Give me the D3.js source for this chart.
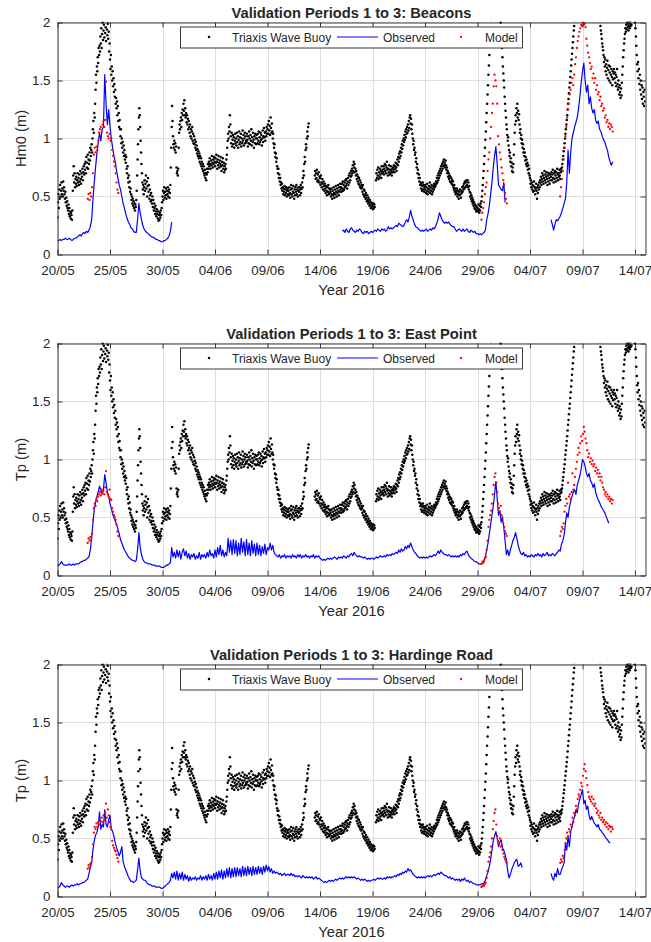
<!DOCTYPE html>
<html>
<head>
<meta charset="utf-8">
<script src="https://cdn.jsdelivr.net/npm/d3@7"></script>
<style>
  body { margin: 0; background: #fff; }
  text { font-family: Arial, "Liberation Sans", sans-serif; fill: #262626; }
</style>
</head>
<body>
<svg id="chart" width="651" height="942"></svg>
<script>
// ---- Data -------------------------------------------------------------
const siteNames = ["Beacons", "East Point", "Hardinge Road"];
const yTitles = ["Hm0 (m)", "Tp (m)", "Tp (m)"];
const xTickDates = ["2016-05-20","2016-05-25","2016-05-30","2016-06-04","2016-06-09","2016-06-14",
                    "2016-06-19","2016-06-24","2016-06-29","2016-07-04","2016-07-09","2016-07-14"];
const yTickValues = [0, 0.5, 1, 1.5, 2];
const xDomain = ["2016-05-20T00:00", "2016-07-15T00:00"];
const legendLabels = ["Triaxis Wave Buoy", "Observed", "Model"];

// Triaxis wave buoy record, hourly from 20/05 00:00 (one row per day, null = no reading on chart)
const buoyStart = "2016-05-20T00:00";
const buoyStepHours = 1;
const N = null;
const buoy = [
0.32,0.45,0.52,0.40,0.56,0.48,0.60,0.50,0.55,0.62,0.52,0.57,0.50,0.63,0.55,0.58,0.52,0.48,0.54,0.45,0.49,0.42,0.46,0.40,
0.38,0.43,0.35,0.40,0.33,0.37,0.31,0.36,0.34,0.30,0.38,0.55,0.68,0.76,0.62,0.70,0.58,0.65,0.61,0.67,0.59,0.64,0.70,0.62,
0.66,0.60,0.69,0.63,0.72,0.65,0.61,0.70,0.67,0.74,0.64,0.71,0.76,0.69,0.78,0.73,0.80,0.70,0.84,0.75,0.79,0.86,0.74,0.82,
0.78,0.88,0.81,0.92,0.85,0.90,0.95,0.88,1.00,1.08,1.15,1.05,1.22,1.18,1.30,1.42,1.55,1.48,1.62,1.58,1.70,1.65,1.78,1.72,
1.80,1.75,1.88,1.82,1.95,1.78,1.90,2.00,1.85,1.93,1.98,1.87,2.05,1.91,1.96,1.84,2.02,1.94,1.89,1.99,1.86,1.92,1.75,1.82,
1.68,1.60,1.72,1.55,1.62,1.50,1.58,1.45,1.52,1.40,1.47,1.36,1.42,1.30,1.35,1.26,1.32,1.20,1.28,1.15,1.22,1.10,1.16,1.08,
1.02,1.08,0.96,1.00,0.92,0.97,0.88,0.94,0.85,0.90,0.82,0.86,0.79,0.84,0.74,0.70,0.76,0.66,0.62,0.68,0.58,0.63,0.54,0.57,
0.52,0.47,0.50,0.44,0.48,0.42,0.46,0.40,0.44,0.38,0.43,0.41,0.47,0.55,0.68,0.82,0.95,1.08,1.18,1.26,1.20,1.10,0.98,0.88,
0.78,0.70,0.62,0.56,0.60,0.52,0.58,0.64,0.55,0.61,0.68,0.57,0.63,0.50,0.59,0.66,0.54,0.60,0.48,0.56,0.51,0.46,0.53,0.47,
0.44,0.50,0.41,0.47,0.38,0.44,0.40,0.35,0.42,0.37,0.33,0.39,0.35,0.31,0.37,0.29,0.34,0.30,0.36,0.32,0.38,0.34,0.40,0.45,
0.50,0.55,0.47,0.53,0.58,0.49,0.54,0.51,0.57,0.48,0.55,0.52,0.58,0.50,0.54,0.56,0.49,0.53,0.60,0.75,0.92,1.10,1.28,1.15,
1.02,0.95,0.92,0.98,0.90,0.96,0.88,0.93,0.75,0.70,0.72,0.68,0.74,0.92,1.05,1.12,1.08,1.15,1.18,1.10,1.22,1.16,1.25,1.20,
1.30,1.24,1.33,1.20,1.26,1.18,1.22,1.14,1.20,1.12,1.17,1.08,1.15,1.10,1.05,1.12,1.02,1.08,1.00,1.06,1.10,0.98,1.04,0.96,
1.02,0.95,0.99,0.92,0.97,0.90,0.94,0.87,0.91,0.85,0.89,0.83,0.87,0.80,0.85,0.78,0.83,0.76,0.80,0.74,0.78,0.72,0.76,0.70,
0.68,0.73,0.66,0.70,0.64,0.69,0.74,0.71,0.78,0.74,0.80,0.76,0.83,0.78,0.74,0.81,0.77,0.85,0.79,0.75,0.82,0.78,0.84,0.80,
0.76,0.83,0.79,0.86,0.80,0.74,0.82,0.77,0.85,0.79,0.75,0.81,0.78,0.84,0.76,0.72,0.80,0.77,0.83,0.74,0.79,0.71,0.76,0.73,
0.78,0.74,0.82,0.86,0.92,0.98,1.04,1.00,1.10,1.06,1.20,1.12,1.02,0.96,1.05,0.93,0.99,1.03,0.95,1.01,0.92,0.98,1.04,0.96,
1.00,0.94,1.05,0.97,1.02,0.92,0.99,1.06,0.95,1.01,0.97,1.04,0.93,1.00,0.96,1.07,0.98,1.03,0.94,1.00,1.05,0.96,1.02,0.98,
0.97,1.04,0.99,0.93,1.02,0.96,1.06,1.00,0.95,1.03,0.98,1.08,0.94,1.01,0.97,1.05,0.99,0.92,1.02,0.96,1.04,1.00,0.95,1.03,
1.00,0.96,1.04,0.98,1.06,0.95,1.01,0.97,1.05,0.99,1.03,0.94,1.00,1.07,0.97,1.02,1.09,1.01,1.05,0.98,1.06,1.02,1.10,1.04,
1.08,1.12,1.04,1.15,1.07,1.11,1.03,1.18,1.09,1.05,1.13,1.06,1.00,1.04,0.96,0.92,0.95,0.88,0.84,0.87,0.80,0.83,0.76,0.74,
0.70,0.74,0.66,0.69,0.63,0.66,0.60,0.62,0.57,0.61,0.55,0.58,0.52,0.57,0.54,0.59,0.51,0.56,0.53,0.58,0.50,0.55,0.57,0.52,
0.55,0.51,0.58,0.53,0.49,0.56,0.60,0.52,0.57,0.50,0.54,0.59,0.53,0.48,0.56,0.51,0.58,0.54,0.60,0.52,0.56,0.50,0.55,0.58,
0.54,0.58,0.51,0.56,0.60,0.53,0.57,0.62,0.58,0.66,0.72,0.68,0.78,0.84,0.80,0.90,0.95,0.92,1.00,1.06,1.02,1.10,1.13,N,
N,N,N,N,N,N,N,N,N,N,N,N,0.68,0.72,0.65,0.70,0.66,0.73,0.63,0.69,0.64,0.71,0.62,0.67,
0.66,0.60,0.68,0.62,0.58,0.65,0.61,0.56,0.63,0.59,0.55,0.61,0.57,0.53,0.59,0.55,0.51,0.58,0.54,0.60,0.52,0.57,0.53,0.56,
0.54,0.50,0.57,0.52,0.48,0.55,0.51,0.58,0.53,0.49,0.56,0.52,0.59,0.54,0.50,0.57,0.53,0.60,0.55,0.51,0.58,0.54,0.61,0.56,
0.58,0.54,0.61,0.57,0.63,0.55,0.60,0.56,0.62,0.58,0.64,0.59,0.65,0.61,0.57,0.63,0.66,0.60,0.68,0.62,0.70,0.64,0.67,0.72,
0.68,0.74,0.70,0.77,0.72,0.80,0.75,0.78,0.71,0.74,0.68,0.72,0.65,0.69,0.63,0.67,0.61,0.66,0.60,0.64,0.58,0.62,0.57,0.60,
0.58,0.54,0.60,0.52,0.56,0.50,0.55,0.51,0.48,0.53,0.49,0.46,0.51,0.47,0.44,0.49,0.45,0.42,0.47,0.43,0.40,0.45,0.41,0.44,
0.42,0.39,0.44,0.40,0.43,0.41,N,N,0.64,0.70,0.66,0.73,0.68,0.75,0.65,0.71,0.67,0.74,0.69,0.72,0.66,0.76,0.70,0.73,
0.71,0.76,0.69,0.74,0.78,0.72,0.77,0.70,0.75,0.80,0.73,0.68,0.74,0.71,0.77,0.69,0.73,0.70,0.76,0.72,0.68,0.74,0.71,0.75,
0.73,0.77,0.71,0.76,0.74,0.79,0.75,0.72,0.78,0.82,0.77,0.84,0.80,0.87,0.83,0.89,0.85,0.92,0.88,0.95,0.91,0.98,0.94,1.00,
0.97,1.03,0.99,1.06,1.01,1.08,1.04,1.10,1.05,1.12,1.07,1.15,1.09,1.18,1.20,1.13,1.17,1.08,1.12,1.04,1.00,0.95,0.98,0.90,
0.92,0.86,0.88,0.80,0.83,0.75,0.78,0.70,0.73,0.66,0.69,0.63,0.66,0.60,0.62,0.57,0.61,0.55,0.59,0.62,0.56,0.60,0.54,0.58,
0.56,0.60,0.53,0.58,0.55,0.61,0.52,0.57,0.54,0.59,0.56,0.62,0.53,0.58,0.55,0.60,0.52,0.57,0.54,0.59,0.56,0.61,0.58,0.60,
0.59,0.63,0.61,0.66,0.62,0.68,0.64,0.70,0.66,0.72,0.68,0.74,0.70,0.76,0.72,0.78,0.74,0.80,0.76,0.82,0.77,0.79,0.75,0.81,
0.77,0.73,0.75,0.70,0.72,0.67,0.70,0.65,0.68,0.63,0.67,0.62,0.66,0.61,0.64,0.60,0.63,0.58,0.56,0.60,0.54,0.57,0.52,0.55,
0.53,0.57,0.50,0.55,0.52,0.48,0.54,0.51,0.56,0.52,0.49,0.55,0.53,0.58,0.54,0.59,0.56,0.61,0.57,0.63,0.58,0.62,0.59,0.64,
0.60,0.64,0.58,0.62,0.56,0.59,0.54,0.50,0.53,0.48,0.51,0.46,0.49,0.44,0.47,0.42,0.45,0.40,0.43,0.39,0.42,0.37,0.41,0.38,
0.40,0.37,0.43,0.39,0.36,0.42,0.38,0.44,0.41,0.46,0.50,0.55,0.60,0.66,0.72,0.78,0.85,0.92,0.99,1.06,1.14,1.22,1.30,1.38,
1.46,1.55,1.63,1.72,1.80,1.88,1.95,2.02,N,N,N,N,N,N,N,N,N,N,N,N,N,N,N,N,
N,N,N,N,N,2.00,1.92,1.84,1.78,1.70,1.62,1.56,1.50,1.44,1.36,1.30,1.24,1.18,1.12,1.08,1.03,0.98,1.01,0.94,
0.90,0.85,0.88,0.80,0.83,0.76,0.79,0.72,0.75,0.71,0.78,0.86,0.95,1.05,1.12,1.20,1.15,1.26,1.22,1.30,1.18,1.24,1.16,1.21,
1.12,1.05,1.08,1.00,1.03,0.96,0.99,0.92,0.95,0.88,0.91,0.85,0.88,0.81,0.84,0.78,0.82,0.76,0.79,0.73,0.77,0.70,0.74,0.68,
0.66,0.61,0.64,0.58,0.62,0.56,0.60,0.54,0.59,0.63,0.55,0.58,0.52,0.57,0.61,0.55,0.48,0.58,0.53,0.60,0.56,0.62,0.58,0.64,
0.62,0.67,0.60,0.65,0.70,0.63,0.68,0.61,0.66,0.72,0.64,0.69,0.62,0.67,0.71,0.65,0.60,0.68,0.63,0.70,0.66,0.61,0.69,0.64,
0.67,0.71,0.64,0.69,0.73,0.66,0.62,0.70,0.65,0.72,0.68,0.63,0.71,0.66,0.74,0.69,0.64,0.70,0.67,0.73,0.68,0.65,0.71,0.74,
0.72,0.75,0.78,0.82,0.85,0.89,0.92,0.96,1.00,1.04,1.08,1.12,1.16,1.20,1.25,1.30,1.34,1.39,1.44,1.48,1.53,1.58,1.63,1.68,
1.73,1.78,1.83,1.88,1.93,1.97,2.02,N,N,N,N,N,N,N,N,N,N,N,N,N,N,N,N,N,
N,N,N,N,N,N,N,N,N,N,N,N,N,N,N,N,N,N,N,N,N,N,N,N,
N,N,N,N,N,N,N,N,N,N,N,N,N,N,N,N,2.02,1.97,1.93,1.90,1.86,1.82,1.79,1.76,
1.72,1.66,1.70,1.62,1.68,1.58,1.64,1.55,1.61,1.67,1.52,1.59,1.63,1.50,1.57,1.62,1.48,1.55,1.60,1.53,1.46,1.58,1.51,1.56,
1.60,1.52,1.57,1.48,1.55,1.45,1.53,1.60,1.47,1.42,1.50,1.44,1.38,1.46,1.40,1.35,1.43,1.37,1.48,1.55,1.62,1.70,1.76,1.82,
1.86,1.90,1.95,1.92,1.98,1.94,2.00,1.96,1.99,1.93,1.97,2.01,1.95,1.99,1.97,2.02,1.98,2.03,N,N,N,N,N,N,
2.00,1.95,1.88,1.80,1.72,1.64,1.58,1.66,1.52,1.60,1.47,1.55,1.42,1.50,1.38,1.46,1.34,1.44,1.30,1.40,1.36,1.28,1.42,1.32
];

// Observed records, 3-hourly; each run starts at the matching entry of *ObsStart
const obsStepHours = 3;
const beaconsObsStart = ["2016-05-20T00:00", "2016-06-16T03:00", "2016-07-06T00:00"];
const beaconsObs1 = [
0.12,0.12,0.13,0.12,0.13,0.13,0.14,0.13, 0.13,0.14,0.13,0.12,0.13,0.14,0.14,0.15,
0.16,0.17,0.16,0.18,0.19,0.18,0.20,0.19, 0.21,0.24,0.30,0.47,0.62,0.75,0.87,0.96,
1.05,0.98,1.08,1.10,1.55,1.30,1.12,1.25, 1.10,1.00,0.92,0.85,0.80,0.72,0.66,0.60,
0.56,0.50,0.44,0.40,0.35,0.31,0.28,0.26, 0.23,0.22,0.20,0.19,0.19,0.30,0.44,0.36,
0.30,0.25,0.22,0.20,0.19,0.18,0.17,0.16, 0.15,0.15,0.14,0.13,0.13,0.12,0.12,0.11,
0.11,0.12,0.12,0.13,0.14,0.16,0.20,0.28];
const beaconsObs2 = [
0.20,0.21,0.19,0.22,0.20,0.19,0.22,
0.23,0.21,0.20,0.19,0.21,0.20,0.22,0.21, 0.19,0.18,0.20,0.19,0.20,0.18,0.19,0.20,
0.19,0.20,0.21,0.20,0.22,0.21,0.20,0.22, 0.21,0.22,0.20,0.21,0.24,0.22,0.23,0.22,
0.23,0.24,0.25,0.24,0.27,0.26,0.25,0.24, 0.25,0.28,0.30,0.28,0.32,0.38,0.33,0.30,
0.26,0.24,0.23,0.22,0.21,0.20,0.21,0.20, 0.21,0.22,0.20,0.21,0.22,0.21,0.23,0.22,
0.24,0.27,0.31,0.36,0.33,0.30,0.28,0.27, 0.28,0.27,0.28,0.26,0.25,0.24,0.24,0.22,
0.20,0.21,0.22,0.21,0.20,0.22,0.20,0.21, 0.22,0.20,0.19,0.21,0.20,0.19,0.20,0.18,
0.18,0.17,0.18,0.17,0.18,0.19,0.21,0.30, 0.35,0.42,0.52,0.62,0.75,0.85,0.93,0.78,
0.60,0.58,0.56,0.55,0.62,0.45];
const beaconsObs3 = [
0.30,0.26,0.21,0.26,0.30,0.29,0.31,0.33, 0.36,0.40,0.44,0.48,0.62,0.90,0.70,0.88,
1.00,1.05,1.10,1.14,1.18,1.26,1.36,1.48, 1.58,1.65,1.50,1.40,1.46,1.30,1.36,1.26,
1.22,1.25,1.16,1.13,1.15,1.08,1.06,1.02, 0.99,0.97,0.93,0.90,0.84,0.80,0.77,0.80];

const eastObsStart = ["2016-05-20T00:00"];
const eastObs1 = [
0.08,0.09,0.10,0.12,0.10,0.09,0.09,0.09, 0.09,0.10,0.09,0.09,0.10,0.09,0.10,0.10,
0.10,0.11,0.12,0.12,0.13,0.13,0.14,0.15, 0.16,0.22,0.32,0.45,0.57,0.63,0.68,0.72,
0.77,0.74,0.70,0.74,0.87,0.80,0.72,0.68, 0.62,0.58,0.53,0.50,0.47,0.44,0.40,0.36,
0.31,0.28,0.25,0.22,0.20,0.18,0.16,0.15, 0.14,0.13,0.13,0.12,0.13,0.22,0.37,0.24,
0.18,0.14,0.12,0.11,0.11,0.10,0.10,0.10, 0.09,0.09,0.09,0.08,0.08,0.08,0.08,0.07,
0.07,0.07,0.08,0.09,0.09,0.10,0.11,0.24, 0.16,0.20,0.15,0.22,0.16,0.21,0.14,0.20,
0.23,0.17,0.21,0.15,0.19,0.14,0.18,0.16, 0.19,0.14,0.17,0.15,0.20,0.14,0.18,0.16,
0.18,0.15,0.20,0.16,0.22,0.17,0.19,0.15, 0.22,0.16,0.24,0.18,0.26,0.17,0.22,0.16,
0.20,0.17,0.32,0.20,0.30,0.18,0.31,0.19, 0.30,0.17,0.28,0.18,0.32,0.20,0.29,0.17,
0.31,0.18,0.28,0.17,0.30,0.19,0.27,0.17, 0.28,0.18,0.26,0.17,0.25,0.19,0.27,0.18,
0.24,0.22,0.28,0.22,0.26,0.20,0.18,0.17, 0.16,0.18,0.15,0.17,0.16,0.18,0.15,0.17,
0.16,0.17,0.15,0.18,0.16,0.17,0.15,0.18, 0.16,0.18,0.15,0.17,0.16,0.18,0.16,0.17,
0.15,0.17,0.16,0.18,0.15,0.17,0.16,0.17, 0.15,0.14,0.13,0.14,0.13,0.14,0.15,0.14,
0.15,0.14,0.15,0.16,0.15,0.14,0.16,0.15, 0.16,0.15,0.17,0.16,0.15,0.17,0.16,0.18,
0.19,0.17,0.20,0.18,0.17,0.16,0.17,0.16, 0.16,0.15,0.16,0.15,0.14,0.15,0.14,0.15,
0.15,0.14,0.15,0.16,0.15,0.16,0.17,0.16, 0.16,0.17,0.16,0.18,0.17,0.18,0.17,0.19,
0.18,0.19,0.20,0.19,0.22,0.20,0.23,0.21, 0.22,0.25,0.23,0.26,0.24,0.28,0.25,0.22,
0.20,0.19,0.17,0.16,0.15,0.16,0.15,0.16, 0.15,0.16,0.15,0.16,0.17,0.16,0.17,0.18,
0.17,0.19,0.21,0.19,0.22,0.20,0.19,0.18, 0.18,0.17,0.18,0.17,0.16,0.17,0.16,0.17,
0.16,0.17,0.16,0.18,0.17,0.19,0.18,0.20, 0.21,0.18,0.16,0.15,0.14,0.13,0.12,0.12,
0.11,0.10,0.10,0.10,0.11,0.12,0.16,0.22, 0.28,0.36,0.44,0.52,0.60,0.70,0.81,0.66,
0.52,0.56,0.46,0.50,0.42,0.30,0.18,0.22, 0.17,0.22,0.26,0.30,0.33,0.37,0.32,0.26,
0.22,0.19,0.18,0.20,0.17,0.18,0.16,0.17, 0.16,0.18,0.17,0.16,0.18,0.17,0.19,0.17,
0.18,0.16,0.19,0.17,0.18,0.20,0.17,0.18, 0.17,0.19,0.18,0.17,0.19,0.20,0.22,0.21,
0.27,0.30,0.35,0.45,0.54,0.50,0.59,0.64, 0.68,0.72,0.74,0.70,0.78,0.82,0.86,0.92,
1.00,0.98,0.94,0.88,0.85,0.88,0.82,0.80, 0.76,0.79,0.72,0.68,0.65,0.63,0.60,0.58,
0.56,0.54,0.51,0.48,0.45];

const hardingeObsStart = ["2016-05-20T00:00", "2016-07-06T00:00"];
const hardingeObs1 = [
0.07,0.08,0.09,0.12,0.10,0.09,0.08,0.09, 0.09,0.08,0.09,0.10,0.09,0.10,0.10,0.11,
0.10,0.11,0.11,0.12,0.12,0.13,0.14,0.15, 0.20,0.25,0.29,0.40,0.48,0.53,0.55,0.60,
0.73,0.58,0.62,0.60,0.75,0.62,0.60,0.66, 0.70,0.58,0.56,0.52,0.46,0.42,0.39,0.35,
0.38,0.43,0.30,0.26,0.23,0.20,0.17,0.15, 0.13,0.13,0.12,0.13,0.14,0.23,0.33,0.22,
0.16,0.15,0.14,0.14,0.12,0.11,0.10,0.10, 0.09,0.09,0.09,0.08,0.08,0.08,0.08,0.07,
0.07,0.08,0.09,0.10,0.11,0.12,0.14,0.20, 0.16,0.21,0.15,0.22,0.14,0.20,0.15,0.21,
0.14,0.19,0.15,0.18,0.13,0.17,0.14,0.16, 0.15,0.17,0.14,0.16,0.15,0.18,0.14,0.17,
0.15,0.18,0.14,0.19,0.15,0.18,0.14,0.20, 0.15,0.21,0.15,0.22,0.16,0.23,0.15,0.22,
0.16,0.24,0.17,0.25,0.16,0.24,0.17,0.25, 0.17,0.25,0.18,0.24,0.17,0.26,0.18,0.25,
0.18,0.26,0.19,0.25,0.18,0.26,0.19,0.25, 0.19,0.26,0.20,0.25,0.19,0.26,0.21,0.27,
0.22,0.26,0.21,0.24,0.20,0.22,0.20,0.21, 0.20,0.19,0.20,0.18,0.19,0.20,0.18,0.19,
0.19,0.18,0.20,0.18,0.19,0.17,0.18,0.17, 0.18,0.17,0.16,0.18,0.17,0.16,0.17,0.16,
0.17,0.16,0.17,0.15,0.16,0.17,0.15,0.16, 0.15,0.14,0.13,0.12,0.13,0.12,0.13,0.14,
0.13,0.14,0.13,0.14,0.15,0.14,0.15,0.16, 0.15,0.16,0.15,0.16,0.17,0.16,0.17,0.16,
0.17,0.16,0.17,0.16,0.15,0.16,0.15,0.14, 0.15,0.14,0.15,0.14,0.13,0.14,0.13,0.14,
0.14,0.15,0.14,0.15,0.16,0.15,0.16,0.15, 0.15,0.16,0.15,0.17,0.16,0.17,0.16,0.17,
0.17,0.18,0.17,0.19,0.18,0.20,0.19,0.21, 0.20,0.22,0.21,0.24,0.22,0.23,0.21,0.19,
0.18,0.17,0.16,0.17,0.16,0.17,0.16,0.17, 0.16,0.17,0.18,0.17,0.18,0.17,0.18,0.19,
0.18,0.19,0.20,0.19,0.21,0.20,0.19,0.18, 0.18,0.17,0.16,0.17,0.15,0.16,0.15,0.14,
0.15,0.14,0.15,0.13,0.15,0.14,0.16,0.14, 0.13,0.14,0.12,0.13,0.12,0.11,0.11,0.10,
0.10,0.10,0.10,0.11,0.11,0.12,0.14,0.18, 0.21,0.26,0.32,0.40,0.48,0.52,0.56,0.50,
0.43,0.47,0.49,0.42,0.40,0.36,0.32,0.22, 0.16,0.19,0.23,0.26,0.29,0.31,0.32,0.26,
0.27,0.29,0.25];
const hardingeObs2 = [
0.20,0.16,0.14,0.20,0.17,0.24,0.19,0.19, 0.23,0.26,0.29,0.46,0.40,0.52,0.43,0.56,
0.60,0.66,0.69,0.75,0.72,0.80,0.84,0.88, 0.92,0.80,0.83,0.75,0.78,0.70,0.66,0.69,
0.66,0.63,0.62,0.60,0.62,0.58,0.57,0.55, 0.54,0.52,0.50,0.49,0.47,0.46];

// Model output, 2-hourly, three validation windows
const modelStepHours = 2;
const modelStart = ["2016-05-22T21:00", "2016-06-29T09:00", "2016-07-06T21:00"];
const beaconsModel1 = [0.48,0.52,0.47,0.53,0.50,0.58,0.70,0.86,0.92,0.88,0.93,0.90,0.98,1.05,1.08,1.10,1.06,1.12,
  1.15,1.10,1.16,1.49,1.05,1.02,1.00,1.04,0.98,1.00,0.90,0.85,0.80,0.76,0.70,0.62,0.56,0.53];
const beaconsModel2 = [0.30,0.36,0.40,0.45,0.52,0.58,0.62,0.72,0.82,0.88,1.00,1.10,1.22,1.30,1.45,1.55,1.50,1.45,
  1.30,1.02,0.95,0.88,0.82,0.75,0.70,0.64,0.60,0.53,0.48,0.44];
const beaconsModel3 = [0.50,0.58,0.65,0.72,0.82,0.92,1.02,1.10,1.18,1.25,1.30,1.38,1.42,1.48,1.52,1.46,1.55,1.64,
  1.70,1.78,1.84,1.88,1.92,1.95,1.98,1.97,2.00,1.98,1.99,1.96,1.86,1.80,1.74,1.70,1.65,1.60,1.62,1.52,1.56,1.48,
  1.52,1.42,1.46,1.38,1.40,1.33,1.36,1.28,1.30,1.24,1.26,1.18,1.20,1.14,1.16,1.10,1.13,1.08,1.12,1.10,1.06];
const eastModel1 = [0.28,0.32,0.30,0.33,0.31,0.36,0.48,0.58,0.62,0.60,0.66,0.64,0.68,0.70,0.72,0.69,0.74,0.71,
  0.73,0.70,0.76,0.90,0.72,0.70,0.68,0.74,0.66,0.65,0.58,0.55,0.52,0.50,0.48,0.44,0.38,0.34];
const eastModel2 = [0.10,0.12,0.11,0.13,0.15,0.16,0.22,0.30,0.42,0.48,0.52,0.56,0.62,0.70,0.78,0.85,0.88,0.80,
  0.72,0.62,0.58,0.55,0.60,0.52,0.50,0.45,0.42,0.38,0.36,0.34];
const eastModel3 = [0.34,0.38,0.42,0.40,0.45,0.55,0.60,0.66,0.62,0.80,0.68,0.70,0.66,0.72,0.88,0.74,0.78,0.85,
  0.92,0.98,1.04,1.10,1.06,1.14,1.20,1.16,1.22,1.28,1.24,1.18,1.14,1.08,1.02,1.05,0.98,1.01,0.96,0.99,0.94,0.96,
  0.90,0.93,0.88,0.91,0.85,0.88,0.82,0.85,0.80,0.76,0.74,0.70,0.72,0.68,0.70,0.66,0.68,0.64,0.66,0.62,0.65];
const hardingeModel1 = [0.24,0.27,0.25,0.28,0.29,0.34,0.45,0.55,0.60,0.58,0.63,0.60,0.64,0.62,0.66,0.65,0.68,0.64,
  0.70,0.66,0.72,0.80,0.68,0.75,0.70,0.64,0.60,0.58,0.48,0.44,0.42,0.40,0.39,0.36,0.33,0.30];
const hardingeModel2 = [0.08,0.09,0.10,0.09,0.11,0.12,0.16,0.22,0.30,0.34,0.38,0.43,0.50,0.58,0.65,0.72,0.75,0.62,
  0.52,0.48,0.45,0.50,0.43,0.44,0.40,0.37,0.34,0.32,0.30,0.29];
const hardingeModel3 = [0.29,0.32,0.30,0.35,0.33,0.40,0.46,0.50,0.55,0.52,0.58,0.56,0.62,0.60,0.68,0.64,0.72,0.70,
  0.78,0.75,0.84,0.88,0.86,0.92,0.98,0.95,1.04,1.10,1.14,1.08,1.02,0.96,0.90,0.86,0.84,0.82,0.86,0.80,0.84,0.78,
  0.80,0.76,0.72,0.74,0.70,0.68,0.72,0.66,0.68,0.64,0.66,0.62,0.64,0.60,0.63,0.58,0.61,0.60,0.56,0.60,0.58];

// ---- Helpers ----------------------------------------------------------
const parseTime = d3.timeParse("%Y-%m-%dT%H:%M");
const parseDay = d3.timeParse("%Y-%m-%d");
function timed(start, stepHours, values) {
  const t0 = parseTime(start).getTime();
  return values.map((v, i) => ({ t: new Date(t0 + i * stepHours * 3600e3), v }));
}

const panels = [
  { obs: [beaconsObs1, beaconsObs2, beaconsObs3].map((a, i) => timed(beaconsObsStart[i], obsStepHours, a)),
    model: [beaconsModel1, beaconsModel2, beaconsModel3] },
  { obs: [eastObs1].map((a, i) => timed(eastObsStart[i], obsStepHours, a)),
    model: [eastModel1, eastModel2, eastModel3] },
  { obs: [hardingeObs1, hardingeObs2].map((a, i) => timed(hardingeObsStart[i], obsStepHours, a)),
    model: [hardingeModel1, hardingeModel2, hardingeModel3] }
];
const buoyPts = timed(buoyStart, buoyStepHours, buoy).filter(d => d.v !== null);

// ---- Layout -----------------------------------------------------------
const svg = d3.select("#chart");
const left = 57.5, right = 645.5, plotH = 232;
const panelTops = [22.5, 343.5, 664.5];
const x = d3.scaleTime().domain(xDomain.map(parseTime)).range([left, right]);
const tickDates = xTickDates.map(parseDay);
const fmt = d3.timeFormat("%d/%m");
const axisColor = "#262626";
const gridColor = "#dedede";
const fontFamily = "Arial, 'Liberation Sans', sans-serif";

panels.forEach((p, k) => {
  const top = panelTops[k], bottom = top + plotH;
  const y = d3.scaleLinear().domain([0, 2]).range([bottom, top]);
  const g = svg.append("g");

  g.append("rect").attr("x", left).attr("y", top).attr("width", right - left).attr("height", plotH).attr("fill", "#fff");

  // grid
  g.append("g").selectAll("line").data(tickDates).join("line")
    .attr("x1", d => Math.round(x(d)) + 0.5).attr("x2", d => Math.round(x(d)) + 0.5)
    .attr("y1", top).attr("y2", bottom).attr("stroke", gridColor).attr("stroke-width", 1);
  g.append("g").selectAll("line").data(yTickValues).join("line")
    .attr("y1", d => y(d)).attr("y2", d => y(d))
    .attr("x1", left).attr("x2", right).attr("stroke", gridColor).attr("stroke-width", 1);

  const clipId = "clip" + k;
  svg.append("clipPath").attr("id", clipId).append("rect")
    .attr("x", left).attr("y", top - 1).attr("width", right - left).attr("height", plotH + 2);
  const plot = g.append("g").attr("clip-path", `url(#${clipId})`);

  // buoy dots
  plot.append("g").selectAll("circle").data(buoyPts).join("circle")
    .attr("cx", d => x(d.t)).attr("cy", d => y(d.v)).attr("r", 1.25).attr("fill", "#000");

  // observed line
  const line = d3.line().defined(d => d.v !== null).x(d => x(d.t)).y(d => y(d.v));
  p.obs.forEach(seg => {
    plot.append("path").datum(seg).attr("d", line)
      .attr("fill", "none").attr("stroke", "#0000ff").attr("stroke-width", 1.2).attr("stroke-linejoin", "round");
  });

  // model dots
  const modelPts = p.model.flatMap((a, i) => timed(modelStart[i], modelStepHours, a));
  plot.append("g").selectAll("circle").data(modelPts).join("circle")
    .attr("cx", d => x(d.t)).attr("cy", d => y(d.v)).attr("r", 1.15).attr("fill", "#ff0000");

  // axes (ticks point inward, box all round)
  const xb = d3.axisBottom(x).tickValues(tickDates).tickFormat(fmt).tickSizeInner(-5).tickSizeOuter(0).tickPadding(11);
  const xt = d3.axisTop(x).tickValues(tickDates).tickFormat("").tickSizeInner(-5).tickSizeOuter(0);
  const yl = d3.axisLeft(y).tickValues(yTickValues).tickFormat(d3.format("")).tickSizeInner(-5).tickSizeOuter(0).tickPadding(7);
  const yr = d3.axisRight(y).tickValues(yTickValues).tickFormat("").tickSizeInner(-5).tickSizeOuter(0);
  const style = sel => {
    sel.selectAll("path,line").attr("stroke", axisColor).attr("stroke-width", 0.9);
    sel.selectAll("text").attr("font-size", 13.3).attr("fill", axisColor).style("font-family", fontFamily);
  };
  g.append("g").attr("transform", `translate(0,${bottom})`).call(xb).call(style);
  g.append("g").attr("transform", `translate(0,${top})`).call(xt).call(style);
  g.append("g").attr("transform", `translate(${left},0)`).call(yl).call(style);
  g.append("g").attr("transform", `translate(${right},0)`).call(yr).call(style);

  // titles
  g.append("text").attr("x", (left + right) / 2).attr("y", top - 5).attr("text-anchor", "middle")
    .attr("font-size", 14.7).attr("font-weight", "bold").attr("fill", "#000")
    .text(`Validation Periods 1 to 3: ${siteNames[k]}`);
  g.append("text").attr("x", (left + right) / 2).attr("y", bottom + 40).attr("text-anchor", "middle")
    .attr("font-size", 14.7).text("Year 2016");
  g.append("text").attr("transform", `translate(26,${(top + bottom) / 2}) rotate(-90)`).attr("text-anchor", "middle")
    .attr("font-size", 14.7).text(yTitles[k]);

  // legend
  const lg = g.append("g").attr("transform", `translate(180,${top + 4})`);
  lg.append("rect").attr("x", 0.5).attr("y", 0.5).attr("width", 342).attr("height", 21)
    .attr("fill", "#fff").attr("stroke", axisColor).attr("stroke-width", 0.9);
  lg.append("circle").attr("cx", 29).attr("cy", 10.5).attr("r", 1.25).attr("fill", "#000");
  lg.append("text").attr("x", 52).attr("y", 15).attr("font-size", 12).text(legendLabels[0]);
  lg.append("line").attr("x1", 157).attr("x2", 198).attr("y1", 10.5).attr("y2", 10.5)
    .attr("stroke", "#0000ff").attr("stroke-width", 1.2);
  lg.append("text").attr("x", 203).attr("y", 15).attr("font-size", 12).text(legendLabels[1]);
  lg.append("circle").attr("cx", 281).attr("cy", 10.5).attr("r", 1.15).attr("fill", "#ff0000");
  lg.append("text").attr("x", 305).attr("y", 15).attr("font-size", 12).text(legendLabels[2]);
});
</script>
</body>
</html>
